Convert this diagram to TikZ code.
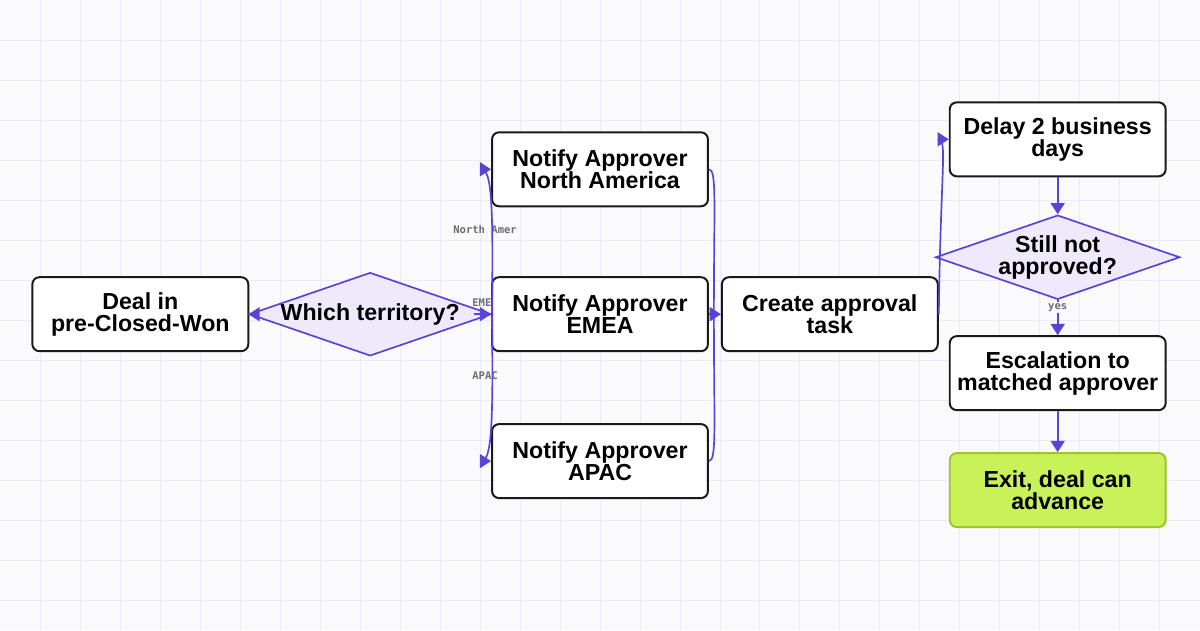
\documentclass[tikz,border=0pt]{standalone}
\usepackage{fontspec}
\setmainfont{Liberation Sans}
\setmonofont{DejaVu Sans Mono}
\usetikzlibrary{shapes.geometric,arrows.meta,positioning}
\definecolor{flowedge}{HTML}{5B43D6}
\definecolor{gridline}{HTML}{ECEAF6}
\definecolor{paper}{HTML}{FAFAFD}
\definecolor{decfill}{HTML}{EEEAFB}
\definecolor{exitfill}{HTML}{C9F158}
\definecolor{exitline}{HTML}{9EC42A}
\definecolor{labelgray}{HTML}{6B6B78}
\tikzset{>={Triangle[length=8pt,width=10pt]}}
\tikzset{
  stage/.style={draw=black!90, line width=1.4pt, rounded corners=5pt, fill=white,
    minimum width=5.4cm, minimum height=1.85cm, align=center, inner sep=1pt,
    font=\fontsize{16.5}{15.5}\selectfont\bfseries},
  choice/.style={diamond, aspect=2.9, draw=flowedge, line width=1.2pt, fill=decfill,
    minimum width=5.7cm, minimum height=2cm, inner sep=0pt, align=center,
    font=\fontsize{16.5}{15.5}\selectfont\bfseries},
  wire/.style={draw=flowedge, line width=1.2pt},
  flow/.style={wire, ->},
  tag/.style={font=\ttfamily\bfseries\fontsize{7.5}{8}\selectfont, text=labelgray}
}
\begin{document}
\begin{tikzpicture}[x=0.025cm,y=-0.025cm]
  % background grid
  \fill[paper] (0,0) rectangle (1200,630);
  \foreach \g in {40,80,...,1160} \draw[gridline, line width=0.6pt] (\g,0) -- (\g,630);
  \foreach \g in {40,80,...,600} \draw[gridline, line width=0.6pt] (0,\g) -- (1200,\g);
  \useasboundingbox (0,0) rectangle (1200,630);
  % edge labels under the boxes
  \node[tag] at (485,229) {North Amer};
  \node[tag] at (485,302) {EMEA};
  \node[tag] at (485,375) {APAC};
  % boxes
  \node[stage] (deal) at (140,314) {Deal in\\pre-Closed-Won};
  \node[choice] (terr) at (370,314) {Which territory?};
  \node[stage] (na) at (600,169) {Notify Approver\\North America};
  \node[stage] (emea) at (600,314) {Notify Approver\\EMEA};
  \node[stage] (apac) at (600,461) {Notify Approver\\APAC};
  \node[stage] (task) at (830,314) {Create approval\\task};
  \node[stage] (delay) at (1058,139) {Delay 2 business\\days};
  \node[choice, minimum height=1.95cm] (still) at (1058,257) {Still not\\approved?};
  \node[stage] (esc) at (1058,373) {Escalation to\\matched approver};
  \node[stage, draw=exitline, fill=exitfill] (exit) at (1058,490) {Exit, deal can\\advance};
  % connectors
  \draw[flow] (deal) -- (terr);
  \draw[flow] (terr.east) .. controls +(2,-130) and +(-1,0) .. (na.west);
  \draw[flow] (terr.east) -- ([xshift=-12pt]emea.west) -- (emea.west);
  \draw[flow] (terr.east) .. controls +(2,130) and +(-1,0) .. (apac.west);
  \draw[wire] (na.east) .. controls +(8,0) and +(0,-110) .. ([xshift=-5pt]task.west);
  \draw[flow] (emea.east) -- (task.west);
  \draw[wire] (apac.east) .. controls +(8,0) and +(0,110) .. ([xshift=-5pt]task.west);
  \draw[flow] (task.east) .. controls +(2,-150) and +(-1,0) .. (delay.west);
  \draw[flow] (delay) -- (still);
  \draw[flow] (still) -- node[tag, pos=0.2, fill=paper, inner sep=1pt] {yes} (esc);
  \draw[flow] (esc) -- (exit);
\end{tikzpicture}
\end{document}
